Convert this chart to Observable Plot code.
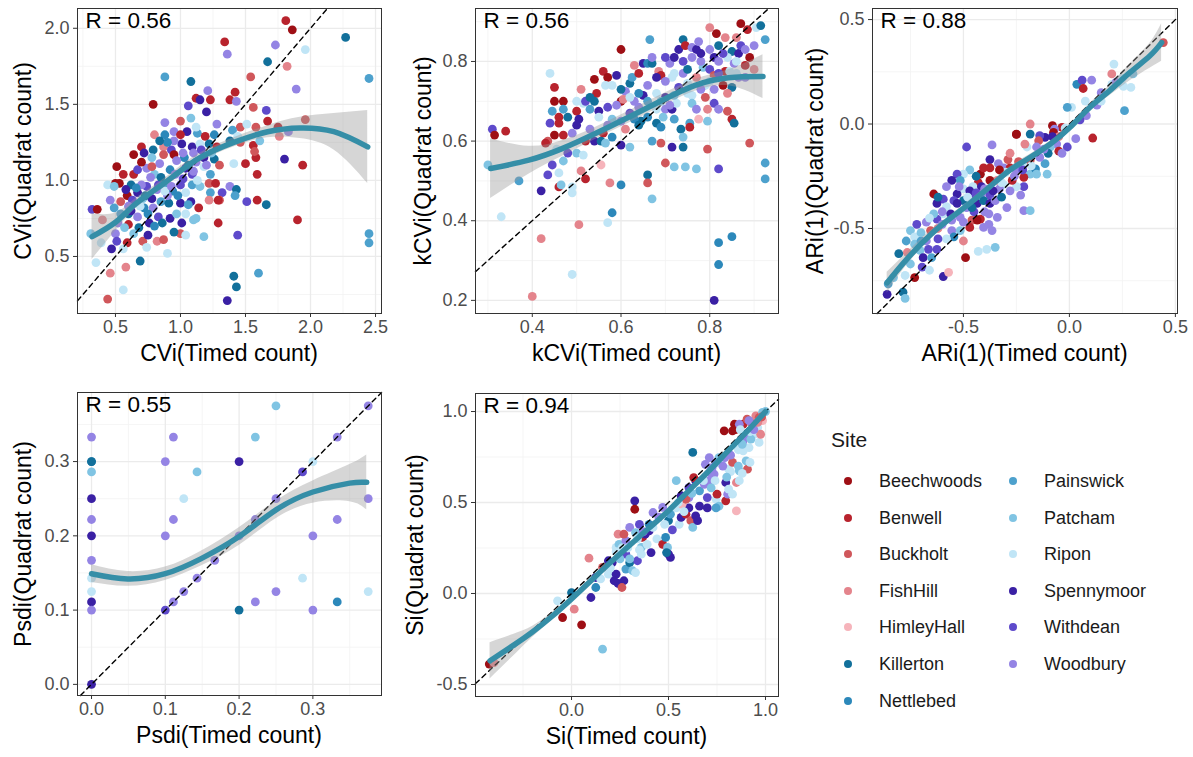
<!DOCTYPE html>
<html><head><meta charset="utf-8">
<script src="https://cdn.jsdelivr.net/npm/d3@7"></script>
<script src="https://cdn.jsdelivr.net/npm/@observablehq/plot@0.6"></script>
<style>
body{margin:0;background:#fff;font-family:"Liberation Sans",Arial,sans-serif;}
#root{position:relative;width:1193px;height:757px;overflow:hidden;background:#fff;}
#root svg{position:absolute;}
#root svg [aria-label^="x-axis"] text, #root svg [aria-label^="y-axis"] text{font-size:18px;fill:#4D4D4D;}
.atitle{position:absolute;font-size:23px;color:#000;white-space:nowrap;line-height:1;}
.lg{position:absolute;white-space:nowrap;line-height:1;color:#1a1a1a;}
.dot{position:absolute;width:8px;height:8px;border-radius:50%;}
</style></head><body><div id="root"></div><script>
// ---- data ----
const sites = ["Beechwoods","Benwell","Buckholt","FishHill","HimleyHall","Killerton","Nettlebed","Painswick","Patcham","Ripon","Spennymoor","Withdean","Woodbury"];
const siteColors = ["#9E0F15","#B8232D","#D0575B","#E4848C","#F6B4BB","#12709B","#2C88BA","#4DA1CD","#80C4E3","#C0E5F6","#3A20A4","#5E4ACB","#9484E4"];

// [timed, quadrat, site index]
const cviPoints = [[1.81,2.05,1],[1.86,1.99,0],[2.27,1.94,5],[1.34,1.91,1],[1.36,1.83,12],[1.73,1.89,12],[1.96,1.86,9],[1.82,1.75,3],[1.67,1.78,5],[2.45,1.67,7],[0.88,1.68,7],[1.08,1.65,5],[1.54,1.68,2],[1.89,1.60,12],[1.21,1.59,12],[1.12,1.54,1],[1.15,1.53,10],[1.23,1.53,1],[0.79,1.50,0],[1.06,1.49,11],[1.42,1.58,1],[1.38,1.53,1],[1.43,1.52,12],[1.56,1.48,2],[1.20,1.45,10],[1.66,1.46,11],[0.88,1.38,12],[1.0,1.39,2],[1.08,1.41,8],[1.28,1.37,12],[1.46,1.35,2],[1.51,1.37,9],[1.58,1.35,2],[1.67,1.39,1],[1.96,1.40,2],[1.75,1.35,1],[1.83,1.32,12],[1.76,1.29,3],[0.80,1.30,3],[0.88,1.30,6],[0.95,1.32,12],[1.05,1.32,10],[1.13,1.31,7],[1.19,1.29,1],[1.26,1.30,6],[1.40,1.33,7],[1.44,1.29,9],[1.38,1.26,5],[1.46,1.25,2],[1.56,1.23,1],[1.61,1.26,8],[0.70,1.22,1],[0.79,1.20,5],[0.87,1.22,3],[0.93,1.20,11],[1.01,1.24,10],[1.09,1.22,10],[1.15,1.24,9],[1.22,1.24,5],[1.28,1.22,1],[0.64,1.17,0],[0.72,1.18,10],[0.78,1.15,8],[0.87,1.17,2],[0.95,1.17,0],[1.03,1.15,6],[1.10,1.18,12],[1.18,1.15,10],[1.26,1.14,5],[1.41,1.11,9],[1.50,1.11,1],[1.58,1.15,1],[1.57,1.19,2],[1.80,1.14,10],[1.94,1.10,1],[0.51,1.09,0],[0.56,1.04,1],[0.64,1.04,1],[0.67,1.07,11],[0.74,1.08,12],[0.84,1.11,12],[0.80,1.04,8],[0.92,1.07,6],[0.96,1.04,12],[1.04,1.08,10],[1.09,1.04,11],[1.18,1.09,9],[1.23,1.04,7],[1.59,1.04,1],[0.50,0.98,0],[0.53,0.98,0],[0.44,0.97,9],[0.49,0.96,8],[0.62,0.97,5],[0.67,0.92,10],[0.74,0.96,11],[0.82,0.94,12],[0.87,0.97,7],[0.94,0.93,6],[1.0,0.97,11],[1.04,0.92,9],[1.09,0.97,7],[1.15,0.96,8],[1.22,0.98,2],[1.27,0.98,1],[1.23,0.92,7],[1.32,0.92,11],[1.38,0.96,12],[1.43,0.94,5],[1.30,0.87,2],[1.42,0.90,7],[0.46,0.87,12],[0.59,0.90,0],[0.54,0.86,2],[0.63,0.87,11],[0.71,0.88,8],[0.78,0.88,10],[0.85,0.86,7],[0.91,0.85,5],[0.79,0.82,12],[0.72,0.82,6],[1.0,0.85,10],[1.08,0.86,10],[1.14,0.82,1],[1.22,0.87,3],[1.29,0.87,1],[1.51,0.86,11],[1.59,0.87,1],[1.66,0.84,5],[0.32,0.81,11],[0.36,0.81,0],[0.49,0.82,7],[0.54,0.78,7],[0.60,0.78,5],[0.67,0.76,12],[0.75,0.78,6],[0.83,0.76,11],[0.92,0.75,10],[0.97,0.78,8],[1.04,0.78,9],[1.10,0.74,8],[0.76,0.72,10],[0.68,0.69,5],[0.60,0.71,1],[0.86,0.72,5],[1.01,0.72,10],[1.29,0.72,1],[1.90,0.74,1],[0.31,0.65,8],[0.39,0.59,9],[0.50,0.65,12],[0.51,0.60,11],[0.59,0.59,1],[0.47,0.55,10],[0.56,0.55,9],[0.64,0.65,8],[0.71,0.60,2],[0.74,0.56,9],[0.82,0.60,3],[0.87,0.61,2],[1.0,0.65,2],[1.04,0.64,9],[1.18,0.63,8],[1.44,0.64,11],[2.45,0.65,7],[2.45,0.59,7],[0.69,0.47,5],[0.90,0.52,9],[0.35,0.46,9],[0.58,0.43,3],[0.46,0.39,3],[0.56,0.28,9],[0.44,0.22,2],[1.41,0.37,5],[1.43,0.30,5],[1.60,0.39,7],[1.36,0.21,10],[0.97,1.13,12],[1.02,1.01,11],[0.90,0.90,12],[0.83,0.97,11],[1.12,1.12,12],[0.70,0.97,12],[0.58,0.94,10],[1.06,0.84,7],[0.95,1.26,12],[1.12,1.35,9],[0.60,0.83,12],[0.66,0.95,6],[0.73,0.90,5],[0.77,1.02,12],[0.85,1.02,5],[0.88,0.93,9],[0.93,0.96,12],[0.98,0.90,6],[1.02,1.18,12],[1.06,1.10,5],[1.10,1.06,12],[1.13,1.00,9],[1.16,1.20,11],[1.20,1.10,12],[0.90,1.25,6],[0.84,1.26,5],[1.24,1.18,8],[1.30,1.10,2],[0.52,0.72,12],[0.57,0.69,8],[0.62,0.80,10],[0.69,0.83,9],[0.75,0.64,10],[0.80,0.70,6],[0.95,0.66,5],[1.12,0.75,8],[1.00,1.30,1],[0.70,1.12,0],[0.78,1.09,2],[0.40,0.74,3]];

const kcviPoints = [[0.31,0.63,11],[0.315,0.615,0],[0.34,0.625,1],[0.30,0.54,8],[0.37,0.50,7],[0.33,0.41,9],[0.44,0.77,9],[0.45,0.735,1],[0.45,0.70,0],[0.47,0.70,0],[0.445,0.675,7],[0.46,0.66,1],[0.47,0.68,7],[0.44,0.645,11],[0.46,0.645,1],[0.48,0.66,5],[0.45,0.615,0],[0.435,0.60,2],[0.43,0.595,1],[0.50,0.70,9],[0.50,0.675,1],[0.505,0.655,10],[0.515,0.695,9],[0.53,0.68,7],[0.54,0.755,0],[0.545,0.72,1],[0.54,0.70,5],[0.52,0.70,11],[0.56,0.775,1],[0.57,0.76,0],[0.565,0.74,9],[0.59,0.765,10],[0.58,0.74,9],[0.55,0.675,10],[0.57,0.685,11],[0.58,0.655,8],[0.60,0.70,0],[0.61,0.725,12],[0.62,0.745,5],[0.625,0.76,7],[0.63,0.70,12],[0.65,0.715,10],[0.64,0.685,12],[0.61,0.63,3],[0.60,0.83,0],[0.52,0.60,1],[0.54,0.60,10],[0.56,0.62,1],[0.555,0.60,5],[0.58,0.61,6],[0.60,0.59,10],[0.62,0.585,8],[0.565,0.595,8],[0.48,0.57,11],[0.50,0.57,8],[0.47,0.55,8],[0.445,0.54,11],[0.435,0.515,11],[0.46,0.52,9],[0.46,0.485,1],[0.465,0.49,8],[0.49,0.485,9],[0.49,0.47,9],[0.51,0.525,3],[0.52,0.505,1],[0.515,0.565,9],[0.42,0.475,10],[0.42,0.355,3],[0.40,0.21,3],[0.505,0.39,3],[0.49,0.265,9],[0.57,0.395,9],[0.58,0.42,6],[0.60,0.49,6],[0.555,0.54,4],[0.575,0.495,3],[0.67,0.455,8],[0.66,0.515,5],[0.66,0.495,2],[0.645,0.65,5],[0.66,0.66,6],[0.68,0.645,5],[0.69,0.635,6],[0.67,0.60,7],[0.69,0.595,2],[0.715,0.585,10],[0.74,0.585,5],[0.70,0.545,2],[0.72,0.535,8],[0.745,0.535,8],[0.77,0.53,8],[0.795,0.58,2],[0.82,0.53,11],[0.89,0.595,2],[0.925,0.545,7],[0.925,0.505,7],[0.82,0.345,6],[0.85,0.36,6],[0.82,0.29,6],[0.81,0.20,10],[0.665,0.855,7],[0.74,0.855,5],[0.65,0.795,10],[0.66,0.795,6],[0.67,0.795,5],[0.685,0.775,3],[0.69,0.765,1],[0.67,0.81,12],[0.71,0.795,12],[0.72,0.81,10],[0.73,0.83,10],[0.745,0.84,1],[0.76,0.835,12],[0.77,0.83,10],[0.775,0.85,12],[0.715,0.76,9],[0.74,0.77,12],[0.75,0.78,5],[0.73,0.735,11],[0.75,0.745,9],[0.77,0.76,3],[0.785,0.785,8],[0.80,0.885,3],[0.815,0.87,0],[0.835,0.86,3],[0.87,0.895,0],[0.885,0.88,1],[0.905,0.885,9],[0.915,0.89,5],[0.925,0.855,7],[0.85,0.825,5],[0.865,0.82,10],[0.81,0.81,10],[0.82,0.80,12],[0.84,0.81,9],[0.855,0.795,12],[0.88,0.79,1],[0.89,0.81,0],[0.80,0.78,11],[0.81,0.765,2],[0.835,0.775,1],[0.845,0.775,9],[0.865,0.76,12],[0.83,0.74,0],[0.85,0.735,5],[0.76,0.715,9],[0.79,0.71,2],[0.81,0.695,11],[0.76,0.695,8],[0.77,0.68,12],[0.795,0.68,3],[0.82,0.68,12],[0.84,0.675,2],[0.85,0.655,1],[0.855,0.645,5],[0.775,0.655,4],[0.795,0.65,8],[0.755,0.645,7],[0.735,0.63,5],[0.755,0.635,1],[0.74,0.61,8],[0.72,0.655,7],[0.70,0.68,12],[0.715,0.68,10],[0.725,0.695,9],[0.70,0.71,10],[0.72,0.715,8],[0.63,0.655,6],[0.64,0.64,5],[0.60,0.65,12],[0.62,0.67,11],[0.68,0.72,9],[0.69,0.70,8],[0.59,0.69,12],[0.605,0.705,3],[0.53,0.63,12],[0.50,0.64,10],[0.47,0.615,1],[0.455,0.58,9],[0.63,0.79,3],[0.64,0.77,1],[0.70,0.81,11],[0.78,0.80,12],[0.87,0.84,11],[0.86,0.86,3],[0.71,0.69,12],[0.695,0.66,8],[0.84,0.72,3],[0.81,0.73,12],[0.79,0.74,9],[0.66,0.74,12],[0.68,0.76,10],[0.70,0.75,12],[0.72,0.77,9],[0.74,0.80,11],[0.76,0.81,12],[0.78,0.82,10],[0.80,0.83,12],[0.82,0.84,5],[0.83,0.82,11],[0.86,0.80,9],[0.88,0.83,12],[0.90,0.84,12],[0.75,0.72,9],[0.78,0.73,12],[0.80,0.75,9],[0.82,0.77,11],[0.86,0.77,9],[0.88,0.76,12],[0.90,0.78,3],[0.62,0.71,9],[0.60,0.73,5],[0.64,0.72,6],[0.66,0.70,7],[0.68,0.68,9],[0.57,0.64,12],[0.55,0.66,9],[0.53,0.71,5],[0.51,0.73,3],[0.49,0.62,12]];

const ariPoints = [[0.443,0.39,2],[0.21,0.287,9],[0.20,0.24,3],[0.29,0.175,9],[0.26,0.064,7],[0.255,0.18,9],[0.035,0.19,6],[0.06,0.21,11],[0.105,0.21,12],[0.065,0.17,1],[0.075,0.11,9],[0.08,0.04,12],[0.01,0.08,9],[-0.01,0.08,7],[0.11,-0.067,1],[-0.08,-0.008,0],[-0.035,-0.016,1],[-0.07,-0.024,12],[-0.185,0.0,3],[-0.115,-0.064,10],[-0.14,-0.056,11],[-0.25,-0.048,0],[-0.185,-0.048,5],[-0.145,-0.08,2],[-0.155,-0.11,12],[-0.20,-0.11,9],[-0.21,-0.096,3],[-0.06,-0.096,12],[-0.01,-0.11,11],[-0.09,-0.11,8],[-0.10,-0.14,5],[-0.05,-0.13,1],[-0.035,-0.14,12],[-0.115,-0.19,7],[-0.105,-0.24,8],[-0.185,-0.24,8],[-0.215,-0.255,1],[-0.29,-0.17,2],[-0.335,-0.19,12],[-0.375,-0.17,10],[-0.375,-0.21,1],[-0.31,-0.21,12],[-0.28,-0.21,1],[-0.25,-0.22,12],[-0.215,-0.19,9],[-0.185,-0.175,2],[-0.16,-0.215,6],[-0.155,-0.24,8],[-0.215,-0.30,11],[-0.25,-0.30,9],[-0.28,-0.32,12],[-0.31,-0.29,9],[-0.34,-0.27,3],[-0.375,-0.27,0],[-0.42,-0.24,0],[-0.43,-0.28,1],[-0.405,-0.21,1],[-0.47,-0.22,8],[-0.50,-0.24,9],[-0.53,-0.24,11],[-0.515,-0.27,7],[-0.555,-0.27,10],[-0.58,-0.30,12],[-0.50,-0.31,9],[-0.455,-0.30,9],[-0.415,-0.30,10],[-0.415,-0.335,12],[-0.375,-0.34,11],[-0.46,-0.35,11],[-0.50,-0.367,5],[-0.53,-0.335,10],[-0.545,-0.367,11],[-0.595,-0.36,11],[-0.625,-0.38,10],[-0.64,-0.335,0],[-0.62,-0.35,5],[-0.58,-0.395,9],[-0.53,-0.38,10],[-0.485,-0.40,12],[-0.435,-0.38,10],[-0.405,-0.367,5],[-0.375,-0.38,10],[-0.35,-0.367,12],[-0.32,-0.35,5],[-0.295,-0.40,12],[-0.215,-0.415,12],[-0.185,-0.415,8],[-0.38,-0.43,12],[-0.34,-0.447,12],[-0.42,-0.455,1],[-0.46,-0.46,2],[-0.515,-0.447,12],[-0.555,-0.46,12],[-0.595,-0.43,9],[-0.625,-0.455,11],[-0.64,-0.43,8],[-0.675,-0.47,12],[-0.655,-0.51,2],[-0.62,-0.50,3],[-0.555,-0.51,12],[-0.515,-0.51,8],[-0.47,-0.495,1],[-0.435,-0.46,0],[-0.405,-0.495,12],[-0.38,-0.48,12],[-0.365,-0.51,12],[-0.545,-0.54,6],[-0.50,-0.56,3],[-0.39,-0.60,9],[-0.35,-0.59,8],[-0.49,-0.64,0],[-0.43,-0.61,9],[-0.72,-0.48,11],[-0.75,-0.51,8],[-0.73,-0.54,9],[-0.77,-0.56,7],[-0.73,-0.575,8],[-0.70,-0.56,7],[-0.675,-0.56,12],[-0.665,-0.60,11],[-0.625,-0.60,11],[-0.705,-0.605,8],[-0.765,-0.615,3],[-0.805,-0.62,5],[-0.69,-0.64,10],[-0.65,-0.64,7],[-0.75,-0.67,8],[-0.695,-0.685,11],[-0.66,-0.70,9],[-0.73,-0.735,0],[-0.775,-0.725,9],[-0.595,-0.73,10],[-0.57,-0.71,4],[-0.83,-0.735,8],[-0.855,-0.765,7],[-0.86,-0.815,10],[-0.785,-0.805,5],[-0.775,-0.835,8],[-0.485,-0.11,11],[-0.365,-0.10,12],[-0.075,-0.04,0],[-0.25,-0.05,0],[-0.45,-0.42,11],[-0.47,-0.32,10],[-0.33,-0.31,12],[-0.27,-0.27,1],[-0.23,-0.34,12],[-0.60,-0.48,12],[-0.58,-0.55,9],[-0.30,-0.23,9],[-0.12,-0.12,12],[-0.44,-0.25,5],[0.15,0.15,12],[0.2,0.19,9],[0.13,0.09,12],[0.03,-0.07,12],[-0.05,-0.06,3],[-0.52,-0.30,12],[-0.48,-0.35,9],[-0.44,-0.33,11],[-0.40,-0.31,12],[-0.36,-0.32,10],[-0.32,-0.28,9],[-0.26,-0.25,12],[-0.22,-0.22,11],[-0.18,-0.20,9],[-0.14,-0.16,12],[-0.60,-0.42,12],[-0.66,-0.45,9],[-0.70,-0.52,8],[-0.62,-0.55,11],[-0.56,-0.43,10],[-0.50,-0.47,12],[-0.46,-0.40,5],[-0.40,-0.42,12],[-0.02,-0.02,9],[0.05,0.02,11],[0.15,0.11,9],[0.22,0.20,12],[0.25,0.22,9],[0.30,0.24,8],[-0.08,-0.06,10],[-0.28,-0.14,3],[-0.33,-0.22,0],[-0.24,-0.18,2]];

const psdiPoints = [[0,0.333,12],[0,0.3,6],[0,0.3,5],[0,0.286,8],[0,0.25,10],[0,0.222,12],[0,0.2,10],[0,0.167,12],[0,0.143,9],[0,0.125,9],[0,0.111,10],[0,0.1,12],[0,0,10],[0.1,0.3,12],[0.1,0.2,12],[0.1,0.1,11],[0.111,0.333,12],[0.111,0.222,12],[0.111,0.111,12],[0.125,0.25,9],[0.125,0.125,12],[0.143,0.286,8],[0.143,0.143,12],[0.167,0.167,12],[0.2,0.3,10],[0.2,0.2,12],[0.2,0.1,5],[0.222,0.333,8],[0.222,0.222,12],[0.222,0.111,12],[0.25,0.375,8],[0.25,0.25,12],[0.25,0.125,12],[0.286,0.286,11],[0.286,0.143,9],[0.3,0.3,9],[0.3,0.2,12],[0.3,0.1,12],[0.333,0.333,12],[0.333,0.222,12],[0.333,0.111,6],[0.375,0.375,12],[0.375,0.25,12],[0.375,0.125,9]];

const siPoints = [[-0.424,-0.388,0],[-0.40,-0.38,3],[-0.072,-0.04,9],[0.0,0.005,5],[0.014,-0.086,3],[-0.046,-0.132,0],[0.052,-0.172,0],[0.16,-0.306,8],[0.10,-0.022,10],[0.125,0.033,6],[0.09,0.194,3],[0.16,0.143,2],[0.21,0.17,10],[0.19,0.106,9],[0.23,0.106,10],[0.24,0.055,10],[0.27,0.07,10],[0.26,0.033,2],[0.28,0.134,7],[0.30,0.17,5],[0.315,0.125,8],[0.33,0.115,9],[0.34,0.18,11],[0.36,0.216,9],[0.36,0.253,8],[0.41,0.225,10],[0.28,0.216,11],[0.23,0.253,9],[0.245,0.27,8],[0.28,0.29,12],[0.24,0.326,3],[0.27,0.326,2],[0.30,0.363,12],[0.33,0.335,8],[0.35,0.38,11],[0.326,0.509,10],[0.326,0.463,0],[0.366,0.308,1],[0.38,0.326,10],[0.40,0.344,10],[0.42,0.363,9],[0.44,0.30,9],[0.47,0.27,1],[0.485,0.308,6],[0.495,0.253,8],[0.50,0.216,10],[0.51,0.198,10],[0.49,0.225,5],[0.50,0.40,5],[0.51,0.436,7],[0.54,0.47,9],[0.555,0.38,9],[0.565,0.418,10],[0.59,0.436,1],[0.605,0.47,10],[0.57,0.49,4],[0.615,0.40,2],[0.625,0.363,8],[0.64,0.427,10],[0.65,0.40,10],[0.605,0.527,12],[0.59,0.518,2],[0.565,0.537,10],[0.54,0.62,8],[0.605,0.582,11],[0.64,0.62,10],[0.63,0.637,1],[0.66,0.564,7],[0.685,0.60,12],[0.71,0.62,12],[0.735,0.656,12],[0.70,0.527,11],[0.745,0.518,9],[0.75,0.546,1],[0.76,0.48,8],[0.70,0.47,10],[0.745,0.47,7],[0.795,0.509,1],[0.805,0.546,12],[0.795,0.61,10],[0.81,0.573,9],[0.85,0.61,3],[0.865,0.62,9],[0.85,0.454,4],[0.83,0.546,9],[0.625,0.775,5],[0.69,0.71,12],[0.71,0.747,12],[0.725,0.692,12],[0.745,0.72,12],[0.76,0.747,8],[0.775,0.71,9],[0.79,0.747,12],[0.81,0.683,9],[0.83,0.72,2],[0.865,0.674,8],[0.885,0.784,9],[0.90,0.729,8],[0.915,0.802,9],[0.90,0.875,12],[0.885,0.839,12],[0.787,0.894,0],[0.84,0.93,0],[0.83,0.894,0],[0.845,0.90,0],[0.885,0.93,1],[0.905,0.958,2],[0.925,0.94,3],[0.95,0.976,3],[0.967,0.967,2],[0.985,0.995,8],[1.0,1.0,8],[0.96,0.912,9],[0.94,0.875,9],[0.925,0.848,8],[0.935,0.93,11],[0.915,0.95,12],[0.865,0.93,12],[0.87,0.90,9],[0.967,0.83,9],[0.975,0.875,3],[0.985,0.95,4],[0.907,0.683,2],[0.125,0.088,10],[0.19,0.18,10],[0.22,0.07,10],[0.30,0.19,8],[0.35,0.24,9],[0.39,0.27,9],[0.40,0.38,6],[0.42,0.445,12],[0.47,0.473,12],[0.23,0.23,9],[0.26,0.25,9],[0.55,0.50,9],[0.62,0.55,8],[0.68,0.62,9],[0.72,0.66,12],[0.74,0.62,9],[0.78,0.70,12],[0.82,0.76,12],[0.86,0.79,9],[0.88,0.82,8],[0.92,0.89,9],[0.94,0.90,12],[0.96,0.94,3],[0.98,0.97,2],[0.82,0.67,9],[0.86,0.70,8],[0.45,0.42,12],[0.48,0.38,9],[0.52,0.35,11],[0.58,0.45,9],[0.66,0.48,10],[0.72,0.58,8],[0.34,0.30,9],[0.37,0.34,12],[0.29,0.25,9],[0.25,0.19,8],[0.20,0.14,9],[0.15,0.08,9],[0.92,0.72,9],[0.80,0.64,8],[0.88,0.66,9]];

// smoother: [x, fit, half-width of band]
const cviSmooth = [[0.32,0.63,0.15],[0.50,0.725,0.06],[0.64,0.835,0.035],[0.79,0.93,0.03],[0.95,1.03,0.03],[1.15,1.15,0.03],[1.41,1.25,0.03],[1.67,1.32,0.04],[1.92,1.345,0.07],[2.18,1.32,0.12],[2.44,1.22,0.24]];
const kcviSmooth = [[0.306,0.531,0.075],[0.392,0.552,0.035],[0.467,0.581,0.02],[0.542,0.619,0.015],[0.617,0.66,0.015],[0.692,0.702,0.015],[0.767,0.74,0.015],[0.842,0.759,0.02],[0.92,0.762,0.055]];
const ariSmooth = [[-0.86,-0.76,0.05],[-0.77,-0.65,0.03],[-0.655,-0.53,0.02],[-0.56,-0.45,0.015],[-0.47,-0.38,0.015],[-0.375,-0.30,0.015],[-0.28,-0.22,0.015],[-0.185,-0.16,0.015],[-0.09,-0.096,0.015],[0.003,-0.016,0.015],[0.097,0.08,0.02],[0.19,0.16,0.025],[0.286,0.247,0.04],[0.38,0.327,0.06],[0.435,0.39,0.09]];
const psdiSmooth = [[0,0.149,0.012],[0.049,0.142,0.01],[0.1,0.149,0.009],[0.148,0.169,0.01],[0.2,0.199,0.012],[0.25,0.235,0.012],[0.3,0.259,0.015],[0.35,0.271,0.025],[0.373,0.272,0.037]];
const siSmooth = [[-0.42,-0.37,0.1],[-0.3,-0.285,0.06],[-0.2,-0.21,0.03],[-0.1,-0.125,0.02],[0,-0.03,0.015],[0.1,0.07,0.015],[0.2,0.17,0.012],[0.3,0.265,0.012],[0.4,0.36,0.012],[0.5,0.455,0.012],[0.6,0.56,0.012],[0.7,0.665,0.012],[0.8,0.775,0.012],[0.9,0.885,0.015],[1.0,1.0,0.02]];

// ticks
const cviXTicks = [0.5,1,1.5,2,2.5], cviXMinor = [0.25,0.75,1.25,1.75,2.25];
const cviYTicks = [0.5,1,1.5,2], cviYMinor = [0.25,0.75,1.25,1.75];
const kcviXTicks = [0.4,0.6,0.8], kcviXMinor = [0.3,0.5,0.7,0.9];
const kcviYTicks = [0.2,0.4,0.6,0.8], kcviYMinor = [0.3,0.5,0.7,0.9];
const ariTicks = [-0.5,0,0.5], ariMinor = [-0.75,-0.25,0.25];
const psdiTicks = [0,0.1,0.2,0.3], psdiMinor = [0.05,0.15,0.25,0.35];
const siXTicks = [0,0.5,1], siXMinor = [-0.25,0.25,0.75];
const siYTicks = [-0.5,0,0.5,1], siYMinor = [-0.25,0.25,0.75];

const rValues = ["R = 0.56","R = 0.56","R = 0.88","R = 0.55","R = 0.94"];

// ---- layout ----
const panels = [
  {pts:cviPoints, sm:cviSmooth, L:77,T:8,R:381,B:313, xd:[0.208,2.546], yd:[0.125,2.13], xt:cviXTicks, xm:cviXMinor, yt:cviYTicks, ym:cviYMinor, xl:"CVi(Timed count)", yl:"CVi(Quadrat count)", ylx:23, r:rValues[0]},
  {pts:kcviPoints, sm:kcviSmooth, L:475,T:8,R:778,B:313, xd:[0.272,0.955], yd:[0.167,0.933], xt:kcviXTicks, xm:kcviXMinor, yt:kcviYTicks, ym:kcviYMinor, xl:"kCVi(Timed count)", yl:"kCVi(Quadrat count)", ylx:423, r:rValues[1]},
  {pts:ariPoints, sm:ariSmooth, L:872,T:8,R:1177,B:313, xd:[-0.929,0.51], yd:[-0.907,0.553], xt:ariTicks, xm:ariMinor, yt:ariTicks, ym:ariMinor, xl:"ARi(1)(Timed count)", yl:"ARi(1)(Quadrat count)", ylx:815, r:rValues[2]},
  {pts:psdiPoints, sm:psdiSmooth, L:77,T:392,R:381,B:695, xd:[-0.019,0.393], yd:[-0.015,0.393], xt:psdiTicks, xm:psdiMinor, yt:psdiTicks, ym:psdiMinor, xl:"Psdi(Timed count)", yl:"Psdi(Quadrat count)", ylx:23, r:rValues[3]},
  {pts:siPoints, sm:siSmooth, L:475,T:393,R:778,B:696, xd:[-0.495,1.067], yd:[-0.566,1.099], xt:siXTicks, xm:siXMinor, yt:siYTicks, ym:siYMinor, xl:"Si(Timed count)", yl:"Si(Quadrat count)", ylx:415, r:rValues[4]}
];

const root = document.getElementById("root");
const fmt = d => d.toFixed(1);
const M = {l:62, t:4, r:6, b:42};
const FONT = "'Liberation Sans', Arial, sans-serif";

for (const p of panels) {
  const lo = Math.max(p.xd[0], p.yd[0]), hi = Math.min(p.xd[1], p.yd[1]);
  const diag = [[lo, lo], [hi, hi]];
  const svg = Plot.plot({
    width: (p.R - p.L) + M.l + M.r,
    height: (p.B - p.T) + M.t + M.b,
    marginLeft: M.l, marginTop: M.t, marginRight: M.r, marginBottom: M.b,
    style: {background: "transparent", fontSize: "18px", fontFamily: FONT, color: "#333333", overflow: "visible"},
    x: {domain: p.xd, ticks: p.xt, tickSize: 4, tickPadding: 3, tickFormat: fmt, label: null},
    y: {domain: p.yd, ticks: p.yt, tickSize: 4, tickPadding: 4, tickFormat: fmt, label: null},
    color: {domain: sites, range: siteColors},
    marks: [
      Plot.ruleX(p.xm, {stroke: "#F2F2F2", strokeWidth: 0.8}),
      Plot.ruleY(p.ym, {stroke: "#F2F2F2", strokeWidth: 0.8}),
      Plot.ruleX(p.xt, {stroke: "#EBEBEB", strokeWidth: 1.3}),
      Plot.ruleY(p.yt, {stroke: "#EBEBEB", strokeWidth: 1.3}),
      Plot.dot(p.pts, {x: d => d[0], y: d => d[1], fill: d => sites[d[2]], r: 4.4, stroke: null}),
      Plot.line(diag, {x: d => d[0], y: d => d[1], stroke: "black", strokeWidth: 1.4, strokeDasharray: "5,4"}),
      Plot.areaY(p.sm, {x: d => d[0], y1: d => d[1] - d[2], y2: d => d[1] + d[2], fill: "#999999", fillOpacity: 0.4, curve: "natural"}),
      Plot.line(p.sm, {x: d => d[0], y: d => d[1], stroke: "#358EA7", strokeWidth: 5.5, curve: "natural"}),
      Plot.frame({stroke: "#333333", strokeWidth: 1}),
      Plot.text([p.r], {text: d => d, frameAnchor: "top-left", dx: 8, dy: 4, lineAnchor: "top", textAnchor: "start", fontSize: 22.5, fill: "#000"})
    ]
  });
  svg.style.left = (p.L - M.l) + "px";
  svg.style.top = (p.T - M.t) + "px";
  root.appendChild(svg);

  const xt = document.createElement("div");
  xt.className = "atitle";
  xt.textContent = p.xl;
  xt.style.left = ((p.L + p.R) / 2) + "px";
  xt.style.top = (p.B + 40) + "px";
  xt.style.transform = "translate(-50%,-50%)";
  root.appendChild(xt);

  const yt = document.createElement("div");
  yt.className = "atitle";
  yt.textContent = p.yl;
  yt.style.left = p.ylx + "px";
  yt.style.top = ((p.T + p.B) / 2) + "px";
  yt.style.transform = "translate(-50%,-50%) rotate(-90deg)";
  root.appendChild(yt);
}

// ---- legend ----
const title = document.createElement("div");
title.className = "lg";
title.style.left = "831px"; title.style.top = "429px"; title.style.fontSize = "21px";
title.textContent = "Site";
root.appendChild(title);
sites.forEach((s, i) => {
  const col = i < 7 ? 0 : 1, row = i < 7 ? i : i - 7;
  const cy = 481 + row * 36.6;
  const dx = col ? 1013 : 848, lx = col ? 1044 : 879;
  const dot = document.createElement("div");
  dot.className = "dot";
  dot.style.left = (dx - 4) + "px"; dot.style.top = (cy - 4) + "px";
  dot.style.background = siteColors[i];
  root.appendChild(dot);
  const t = document.createElement("div");
  t.className = "lg";
  t.style.left = lx + "px"; t.style.top = cy + "px"; t.style.fontSize = "18px";
  t.style.transform = "translateY(-50%)";
  t.textContent = s;
  root.appendChild(t);
});
</script></body></html>
